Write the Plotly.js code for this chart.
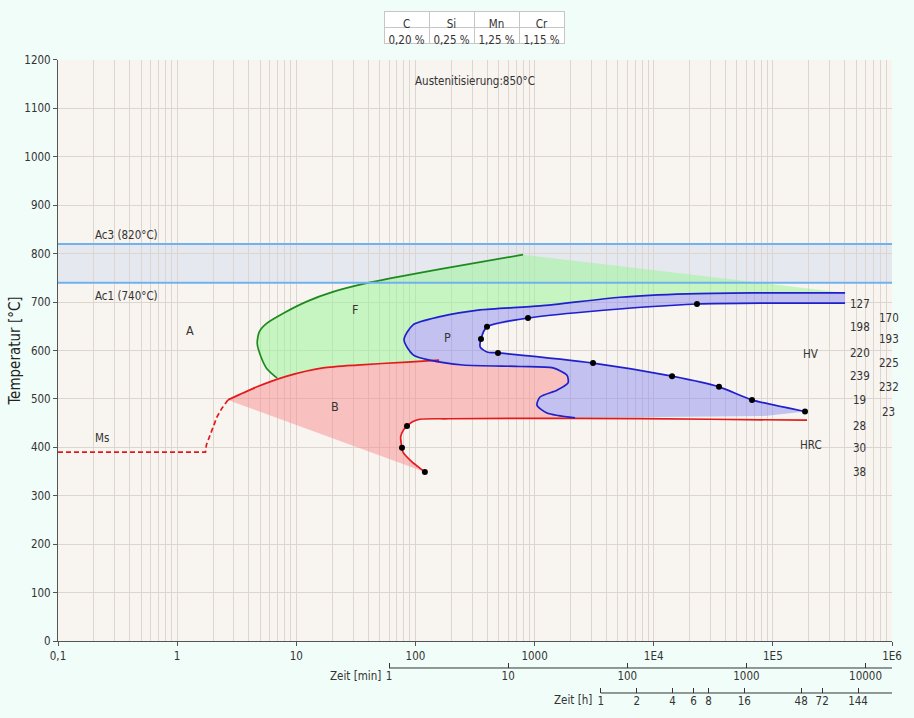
<!DOCTYPE html>
<html><head><meta charset="utf-8">
<script src="https://cdn.plot.ly/plotly-3.0.1.min.js"></script>
<style>html,body{margin:0;padding:0;background:#f1fdf8;}#chart{width:914px;height:718px;}</style>
</head><body><div id="chart"></div>
<script>
// ---- composition table ----
const elements = ['C', 'Si', 'Mn', 'Cr'];
const contents = ['0,20\u00a0%', '0,25\u00a0%', '1,25\u00a0%', '1,15\u00a0%'];

// ---- constants (°C) ----
const AC3 = 820, AC1 = 740;

// ---- curves: time in s, temperature in °C ----
// ferrite start, bottom -> top
const ferrite_t = [6.9, 5.64, 5.05, 4.7, 4.9, 5.64, 7.8, 12.2, 20.3, 39.0, 161, 800];
const ferrite_T = [543, 563, 587, 615, 639, 656, 677, 701, 721, 739, 768, 798];

// bainite start (solid)
const bainS_t = [2.67, 4.68, 8.36, 16.8, 32.3, 85, 158];
const bainS_T = [498, 525, 547, 564, 570, 576, 580];

// Ms / dashed part
const ms_t = [0.1, 1.73, 1.76, 1.89, 2.0, 2.16, 2.38, 2.67];
const ms_T = [390, 390, 405, 425, 442, 463, 481, 498];

// bainite finish
const bainF_t = [120, 105, 93.5, 83.4, 78.7, 77.1, 75.2, 79.5, 85, 94.5, 109, 190, 2200, 30000, 193600];
const bainF_T = [349, 360, 370, 382, 390, 399, 422, 436, 444, 453, 458, 459, 460, 458, 456];

// pearlite start (outer), from right top around the nose to the bottom end
const perlS_t = [403600, 68140, 19030, 5214, 1111, 348, 161, 95.5, 80.2, 95.5, 132, 251, 755, 1429, 1872, 1909, 1543, 1111, 1048, 1271, 2185];
const perlS_T = [719, 719, 717, 710, 692, 684, 670, 653, 622, 591, 580, 570, 567, 564, 549, 533, 518, 504, 487, 471, 461];

// pearlite finish (inner), from right top around to the bottom end
const perlF_t = [403600, 94600, 23080, 2756, 881, 399, 355, 350, 399, 493, 3094, 14250, 35330, 66870, 186200];
const perlF_T = [698, 698, 696, 680, 667, 649, 624, 607, 597, 595, 574, 547, 525, 498, 474];

// lower edge of the pearlite band fill
const perlB_t = [89300];
const perlB_T = [465];

// measuring points
const dot_t = [23080, 881, 399, 355, 493, 3094, 14250, 35330, 66870, 186200, 85, 77.1, 120];
const dot_T = [696, 667, 649, 624, 595, 574, 547, 525, 498, 474, 444, 399, 349];

// hardness values (two columns) at the temperature of their point
const hardA = ['127', '198', '220', '239', '19', '28', '30', '38'];
const hardA_T = [696, 649, 595, 547, 498, 444, 399, 349];
const hardB = ['170', '193', '225', '232', '23'];
const hardB_T = [667, 624, 574, 525, 474];

// ---- axis tick labels ----
const secTicks = [0.1, 1, 10, 100, 1000, 1e4, 1e5, 1e6];
const secLabels = ['0,1', '1', '10', '100', '1000', '1E4', '1E5', '1E6'];
const minTicks = [1, 10, 100, 1000, 10000];
const minLabels = ['1', '10', '100', '1000', '10000'];
const hTicks = [1, 2, 4, 6, 8, 16, 48, 72, 144];
const hLabels = ['1', '2', '4', '6', '8', '16', '48', '72', '144'];
const tempTicks = [0, 100, 200, 300, 400, 500, 600, 700, 800, 900, 1000, 1100, 1200];

// ---- build polygons ----
const iNoseEnd = perlS_t.indexOf(132);
const bsInner = bainS_t.map((t, i) => [t, bainS_T[i]]).filter(p => p[0] > ferrite_t[0] && p[0] < 132).reverse();
const greenX = ferrite_t.concat(perlS_t.slice(0, iNoseEnd + 1), bsInner.map(p => p[0]));
const greenY = ferrite_T.concat(perlS_T.slice(0, iNoseEnd + 1), bsInner.map(p => p[1]));

const iF = bainF_t.indexOf(2200);
const pinkX = bainS_t.concat(perlS_t.slice(iNoseEnd + 1), bainF_t.slice(0, iF + 1).reverse());
const pinkY = bainS_T.concat(perlS_T.slice(iNoseEnd + 1), bainF_T.slice(0, iF + 1).reverse());

const blueX = perlS_t.concat(perlB_t, perlF_t.slice().reverse());
const blueY = perlS_T.concat(perlB_T, perlF_T.slice().reverse());

const minorVals = [];
for (let d = -1; d < 6; d++) for (let k = 2; k < 10; k++) minorVals.push(k * Math.pow(10, d));

// axis geometry (seconds axis spans 0.1 s .. 1E6 s)
const T0 = 0.1, T1 = 1e6;
const fracOf = s => (Math.log10(s) - Math.log10(T0)) / (Math.log10(T1) - Math.log10(T0));

const FONT = 'DejaVu Sans Condensed, Liberation Sans, Arial, sans-serif';
const TXT = '#333';
const GRID = '#ddd6d0';

function fill(x, y, c) {
  return {x, y, type: 'scatter', mode: 'lines', fill: 'toself', fillcolor: c,
          line: {width: 0}, hoverinfo: 'skip', xaxis: 'x', yaxis: 'y'};
}
function curve(x, y, c, dash, shape) {
  return {x, y, type: 'scatter', mode: 'lines',
          line: {color: c, width: 1.7, shape: shape || 'spline', smoothing: 0.7, dash: dash || 'solid'},
          hoverinfo: 'skip', xaxis: 'x', yaxis: 'y'};
}

const data = [
  fill(greenX, greenY, 'rgba(150,246,148,0.5)'),
  fill(pinkX, pinkY, 'rgba(250,140,146,0.5)'),
  fill(blueX, blueY, 'rgba(142,142,242,0.5)'),
  curve(ferrite_t, ferrite_T, '#1e8a1e'),
  curve(bainS_t, bainS_T, '#e31a1c'),
  curve(ms_t, ms_T, '#e31a1c', '5px,3px', 'linear'),
  curve(bainF_t, bainF_T, '#e31a1c'),
  curve(perlS_t, perlS_T, '#1f1fcc'),
  curve(perlF_t, perlF_T, '#1f1fcc'),
  {x: dot_t, y: dot_T, type: 'scatter', mode: 'markers', marker: {color: '#000', size: 6},
   hoverinfo: 'skip', xaxis: 'x', yaxis: 'y'},
  {x: [1], y: [null], type: 'scatter', mode: 'markers', xaxis: 'x2', yaxis: 'y', hoverinfo: 'skip'},
  {x: [1], y: [null], type: 'scatter', mode: 'markers', xaxis: 'x3', yaxis: 'y', hoverinfo: 'skip'},
  {type: 'table', domain: {x: [0.3909, 0.6079], y: [0.90, 0.9915]},
   columnwidth: [1, 1, 1, 1],
   header: {values: elements, height: 16, align: 'center', fill: {color: '#ffffff'},
            line: {color: '#c6c6c6', width: 1}, font: {family: FONT, size: 11.5, color: TXT}},
   cells: {values: contents.map(v => [v]), height: 16, align: 'center', fill: {color: '#ffffff'},
           line: {color: '#c6c6c6', width: 1}, font: {family: FONT, size: 11.5, color: TXT}}}
];

const tickFont = {family: FONT, size: 11.5, color: TXT};
const ann = [];
function lab(text, x, y, opts) {
  ann.push(Object.assign({text, x, y, xref: 'x', yref: 'y', showarrow: false, xanchor: 'center',
    font: {family: FONT, size: 11.5, color: TXT}}, opts || {}));
}
lab('Austenitisierung:850°C', 2.5, 1157);
lab('Ac3 (820°C)', -0.706, 838, {xanchor: 'left'});
lab('Ac1 (740°C)', -0.706, 712, {xanchor: 'left'});
lab('A', 0.108, 642, {font: {family: FONT, size: 12.5, color: TXT}});
lab('F', 1.493, 684, {font: {family: FONT, size: 12.5, color: TXT}});
lab('P', 2.265, 626, {font: {family: FONT, size: 12.5, color: TXT}});
lab('B', 1.325, 485, {font: {family: FONT, size: 12.5, color: TXT}});
lab('Ms', -0.706, 419, {xanchor: 'left'});
lab('HV', 5.32, 593);
lab('HRC', 5.32, 405);
hardA.forEach((h, i) => ann.push({text: h, x: 0.9616, xref: 'paper', y: hardA_T[i], yref: 'y',
  xanchor: 'center', showarrow: false, font: {family: FONT, size: 11.5, color: TXT}}));
hardB.forEach((h, i) => ann.push({text: h, x: 0.9964, xref: 'paper', y: hardB_T[i], yref: 'y',
  xanchor: 'center', showarrow: false, font: {family: FONT, size: 11.5, color: TXT}}));
ann.push({text: 'Zeit [min]', xref: 'paper', yref: 'paper', x: fracOf(60) - 0.007, y: 0.0523, xanchor: 'right',
  yanchor: 'middle', showarrow: false, font: {family: FONT, size: 11.5, color: TXT}});
ann.push({text: 'Zeit [h]', xref: 'paper', yref: 'paper', x: fracOf(3600) - 0.008, y: 0.0184, xanchor: 'right',
  yanchor: 'middle', showarrow: false, font: {family: FONT, size: 11.5, color: TXT}});

const POS_MIN = 0.06356, POS_H = 0.02825;
const layout = {
  width: 914, height: 718,
  paper_bgcolor: '#f1fdf8', plot_bgcolor: '#f8f4ef',
  margin: {l: 58, r: 22, t: 5, b: 5},
  showlegend: false,
  xaxis: {type: 'log', range: [Math.log10(T0), Math.log10(T1)], domain: [0, 1], anchor: 'y',
    tickmode: 'array', tickvals: secTicks, ticktext: secLabels,
    ticks: 'outside', ticklen: 4, tickcolor: '#555', showline: true, linecolor: '#555',
    showgrid: true, gridcolor: GRID, zeroline: false, tickfont: tickFont,
    minor: {tickmode: 'array', tickvals: minorVals, showgrid: true, gridcolor: GRID, ticks: ''}},
  xaxis2: {type: 'log', overlaying: 'x', anchor: 'free', position: POS_MIN,
    range: [Math.log10(T0 / 60), Math.log10(T1 / 60)], tickmode: 'array', tickvals: minTicks, ticktext: minLabels,
    ticks: 'inside', ticklen: 5, tickcolor: '#333', showline: false,
    showgrid: false, zeroline: false, tickfont: tickFont},
  xaxis3: {type: 'log', overlaying: 'x', anchor: 'free', position: POS_H,
    range: [Math.log10(T0 / 3600), Math.log10(T1 / 3600)], tickmode: 'array', tickvals: hTicks, ticktext: hLabels,
    ticks: 'inside', ticklen: 5, tickcolor: '#333', showline: false,
    showgrid: false, zeroline: false, tickfont: tickFont},
  yaxis: {range: [0, 1200], domain: [0.10169, 0.92232], anchor: 'x',
    tickmode: 'array', tickvals: tempTicks, ticks: 'outside', ticklen: 4, tickcolor: '#555',
    showline: true, linecolor: '#555', gridcolor: GRID, zeroline: false, tickfont: tickFont,
    title: {text: 'Temperatur [°C]', font: {family: FONT, size: 15, color: '#222'}, standoff: 0}},
  shapes: [
    {type: 'rect', xref: 'paper', yref: 'y', x0: 0, x1: 1, y0: AC1, y1: AC3,
     fillcolor: '#e5e8ee', line: {width: 0}, layer: 'below'},
    {type: 'line', xref: 'paper', yref: 'y', x0: 0, x1: 1, y0: AC3, y1: AC3,
     line: {color: '#6fb2ee', width: 2}, layer: 'above'},
    {type: 'line', xref: 'paper', yref: 'y', x0: 0, x1: 1, y0: AC1, y1: AC1,
     line: {color: '#6fb2ee', width: 2}, layer: 'above'},
    {type: 'line', xref: 'paper', yref: 'paper', x0: fracOf(60), x1: 1, y0: POS_MIN, y1: POS_MIN,
     line: {color: '#333', width: 1}},
    {type: 'line', xref: 'paper', yref: 'paper', x0: fracOf(3600), x1: 1, y0: POS_H, y1: POS_H,
     line: {color: '#333', width: 1}}
  ],
  annotations: ann
};

Plotly.newPlot('chart', data, layout, {displayModeBar: false, staticPlot: true});
</script></body></html>
